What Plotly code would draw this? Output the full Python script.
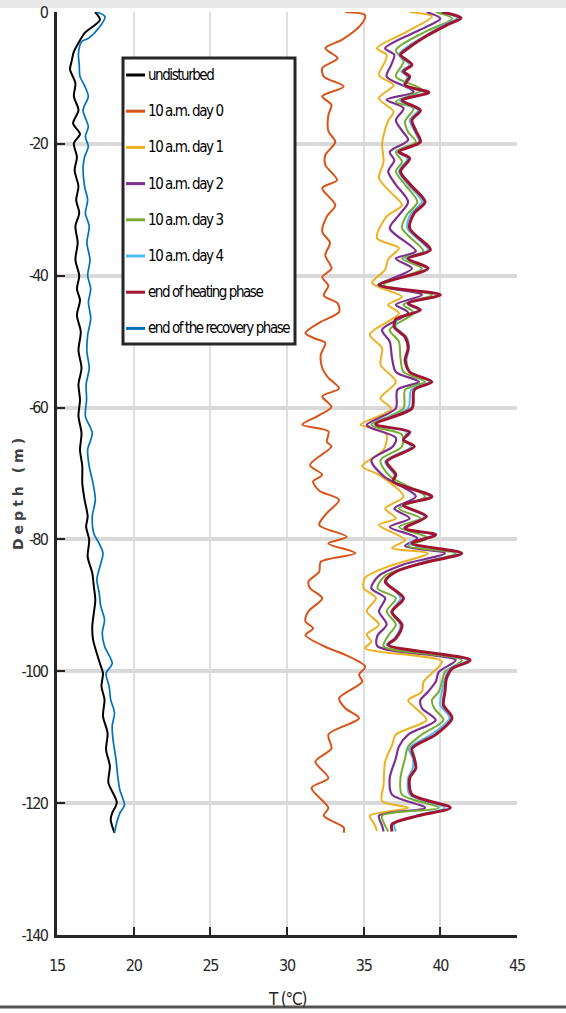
import plotly.graph_objects as go

# ---- temperature profiles: depth below surface (m) and temperature (degC) ----
undisturbed_depth = [0, 1.2, 3.2, 4.7, 6.0, 7.5, 8.7, 10.8, 12.8, 14.9, 16.9, 18.5, 19.9, 22.0, 24.0, 26.5, 28.5, 30.5, 32.5, 35.0,
                     37.6, 40.0, 42.0, 43.7, 46.0, 48.5, 51.3, 54.0, 56.5, 58.8, 61.3, 63.9, 66.4, 68.9, 71.5, 74.0, 76.5, 78.1,
                     80.1, 82.6, 85.1, 87.1, 89.2, 91.2, 93.2, 95.2, 98.8, 100.3, 102.3, 104.3, 106.8, 109.4, 111.9, 114.4,
                     116.9, 119.9, 121.5, 122.5, 124.5]
undisturbed_temp = [17.48, 17.8, 16.8, 16.4, 16.1, 15.95, 15.85, 16.2, 16.1, 16.4, 16.05, 16.5, 16.1, 16.3, 16.15, 16.4, 16.25,
                    16.45, 16.2, 16.35, 16.2, 16.45, 16.3, 16.5, 16.3, 16.55, 16.4, 16.6, 16.4, 16.5, 16.4, 16.6, 16.5, 16.65,
                    16.65, 16.8, 17.0, 16.9, 17.1, 17.0, 17.3, 17.4, 17.5, 17.4, 17.3, 17.35, 17.8, 18.0, 17.9, 18.1, 18.0,
                    18.3, 18.2, 18.45, 18.35, 18.9, 18.6, 18.5, 18.75]

day0_depth = [0, 0.5, 2.0, 4.2, 5.5, 7.0, 8.5, 9.8, 11.3, 12.8, 14.1, 15.6, 18.1, 19.7, 21.7, 23.2, 25.5, 26.7, 29.3, 31.0,
              33.3, 35.0, 36.9, 38.9, 40.2, 41.5, 43.0, 44.2, 45.5, 47.0, 48.7, 49.5, 50.2, 52.0, 54.0, 55.5, 57.1, 58.3,
              59.9, 61.3, 62.6, 63.6, 65.2, 65.9, 68.7, 70.2, 71.2, 72.6, 74.0, 76.0, 77.8, 79.6, 80.6, 82.1, 83.4, 84.9,
              86.4, 87.4, 88.9, 90.9, 92.4, 93.5, 94.5, 96.5, 97.5, 99.3, 100.5, 101.6, 104.1, 105.6, 107.1, 109.6, 111.7,
              113.7, 116.2, 117.7, 120.7, 121.9, 123.7, 124.5]
day0_temp = [33.8, 35.1, 34.8, 33.6, 32.5, 33.3, 32.3, 32.4, 33.7, 32.3, 32.9, 32.7, 32.7, 33.15, 32.5, 32.5, 33.26, 32.3,
             33.15, 32.6, 32.3, 32.8, 32.5, 32.9, 32.3, 32.7, 32.4, 33.3, 33.4, 32.2, 31.2, 31.8, 32.5, 32.2, 32.3, 32.7,
             33.4, 32.3, 32.9, 32.0, 31.0, 32.7, 32.6, 32.9, 31.5, 32.3, 31.7, 32.1, 33.4, 32.6, 32.1, 33.9, 32.7, 34.46,
             32.2, 32.1, 31.4, 31.5, 32.3, 31.4, 31.2, 31.7, 31.2, 32.7, 33.8, 35.1, 34.7, 34.9, 33.4, 33.8, 34.7, 32.7,
             32.9, 31.85, 32.7, 31.6, 32.7, 32.4, 33.7, 33.7]

day1_depth = [0, 0.7, 3.0, 5.5, 6.5, 7.5, 9.6, 11.1, 13.1, 15.1, 16.5, 18.7, 20.2, 22.7, 25.2, 27.2, 29.3, 31.0, 34.3, 35.8,
              37.5, 39.1, 41.1, 43.2, 44.4, 45.7, 48.9, 51.0, 53.5, 56.1, 58.6, 60.2, 62.6, 63.1, 64.1, 66.4, 68.9, 70.2,
              73.5, 75.3, 76.8, 77.8, 80.1, 81.3, 82.1, 84.1, 85.8, 87.4, 88.9, 90.9, 92.9, 94.4, 95.5, 96.5, 98.5, 100.3,
              101.6, 103.1, 104.4, 105.6, 107.4, 109.6, 111.2, 113.7, 117.2, 119.7, 120.7, 121.9, 123.2, 124.2]
day1_temp = [38.0, 39.45, 37.8, 35.87, 36.5, 36.4, 36.0, 36.95, 35.98, 36.95, 36.6, 36.3, 36.2, 36.3, 36.0, 36.7, 37.5, 36.5,
             35.87, 37.3, 36.6, 36.4, 35.55, 37.5, 36.6, 37.3, 35.4, 36.2, 36.1, 37.1, 36.1, 36.8, 34.8, 35.5, 36.5, 36.3,
             34.9, 36.0, 37.6, 36.4, 37.1, 36.0, 37.7, 36.85, 39.2, 36.6, 35.1, 35.0, 35.8, 35.2, 36.0, 35.2, 35.5, 35.1,
             40.1, 39.45, 38.9, 38.8, 37.9, 38.4, 39.1, 37.1, 36.85, 36.4, 36.3, 36.2, 37.9, 35.4, 35.7, 35.87]

day2_depth = [0, 1.0, 3.0, 5.5, 6.5, 8.0, 9.8, 12.1, 13.3, 14.6, 16.4, 18.0, 19.4, 21.2, 22.5, 24.2, 26.2, 28.8, 30.8, 32.8,
              36.3, 37.4, 38.9, 41.4, 42.9, 44.4, 45.6, 48.2, 50.0, 52.5, 54.6, 56.1, 57.3, 60.1, 62.6, 63.1, 64.6, 65.9,
              68.0, 70.4, 73.5, 75.3, 76.8, 78.1, 79.8, 81.0, 82.1, 83.8, 85.5, 87.4, 88.9, 90.9, 92.9, 94.6, 96.2, 98.3,
              100.1, 101.6, 103.1, 104.4, 105.6, 107.4, 109.6, 111.4, 113.2, 116.2, 118.7, 120.7, 121.9, 123.4, 124.3]
day2_temp = [39.1, 40.0, 38.4, 36.4, 37.0, 36.8, 36.5, 38.26, 36.5, 37.6, 37.1, 37.5, 37.9, 36.7, 37.0, 36.6, 37.1, 37.9, 37.3,
             36.7, 38.4, 37.1, 38.15, 36.1, 38.8, 37.1, 37.9, 36.2, 36.7, 36.85, 37.1, 38.6, 37.2, 37.1, 35.2, 35.5, 37.1,
             36.9, 35.5, 36.3, 38.4, 37.0, 38.0, 36.7, 38.5, 37.7, 40.3, 37.6, 36.0, 35.5, 36.4, 36.0, 36.5, 35.9, 35.9,
             41.0, 39.9, 39.7, 39.2, 38.7, 38.8, 39.7, 37.9, 37.3, 37.1, 36.7, 36.85, 39.0, 36.0, 36.2, 36.3]

day3_depth = [0, 1.0, 3.0, 5.8, 7.5, 9.8, 11.8, 13.6, 14.6, 16.6, 18.2, 19.7, 21.2, 22.7, 24.2, 26.2, 28.8, 30.8, 32.8, 36.3,
              37.4, 38.9, 41.4, 42.9, 44.4, 45.6, 48.2, 50.0, 52.5, 54.6, 56.1, 57.3, 60.1, 62.6, 63.1, 64.1, 65.9, 68.0,
              70.4, 73.5, 75.3, 76.8, 78.1, 79.8, 81.0, 82.1, 83.8, 85.5, 87.4, 88.9, 90.9, 92.9, 94.6, 96.2, 98.3, 100.1,
              101.6, 103.1, 104.4, 105.6, 107.4, 109.6, 111.4, 113.2, 116.2, 118.7, 120.7, 121.9, 123.4, 124.3]
day3_temp = [39.7, 40.76, 39.0, 37.1, 37.6, 37.1, 38.8, 37.1, 38.26, 37.7, 37.9, 38.4, 37.1, 37.5, 37.1, 37.7, 38.5, 37.8,
             37.5, 38.9, 37.5, 38.8, 36.3, 39.45, 37.6, 38.26, 36.7, 37.3, 37.4, 37.6, 39.0, 37.7, 37.6, 35.5, 36.0, 37.5,
             37.5, 36.1, 36.7, 39.0, 37.3, 38.7, 37.3, 39.2, 37.9, 41.0, 38.4, 36.4, 35.9, 37.1, 36.5, 37.1, 36.6, 36.3,
             41.4, 40.3, 40.1, 39.9, 39.45, 39.6, 40.2, 38.8, 37.9, 37.7, 37.4, 37.5, 39.9, 36.2, 36.4, 36.6]

heating_depth = [0, 0.9, 2.0, 3.5, 5.5, 6.5, 8.0, 9.0, 9.8, 11.1, 12.2, 13.4, 14.9, 16.4, 18.0, 19.7, 21.2, 22.2, 24.2, 26.2,
                 28.8, 30.5, 32.8, 36.1, 37.4, 38.9, 41.4, 42.9, 44.2, 45.2, 46.6, 47.8, 49.3, 51.0, 52.8, 54.6, 56.1, 57.3,
                 60.1, 62.5, 63.7, 64.9, 65.9, 68.2, 70.2, 71.2, 73.5, 74.8, 76.5, 78.3, 79.3, 80.6, 82.1, 83.5, 84.9, 86.4,
                 88.9, 91.0, 93.0, 95.0, 96.0, 98.3, 99.6, 101.1, 103.1, 105.1, 107.1, 109.6, 111.7, 113.2, 114.7, 116.2,
                 118.7, 120.7, 121.9, 123.2, 124.3]
day4_temp = [40.0, 41.1, 40.2, 39.1, 37.7, 37.3, 38.0, 37.45, 37.85, 37.6, 39.0, 37.35, 38.55, 38.0, 38.3, 38.6, 37.2, 37.85,
             37.3, 37.9, 38.8, 38.1, 37.85, 39.2, 37.75, 39.1, 35.9, 39.85, 37.8, 38.55, 37.2, 37.1, 37.8, 37.95, 37.8, 38.0,
             39.3, 38.1, 37.9, 35.7, 37.8, 37.6, 38.1, 36.4, 37.0, 37.0, 39.3, 37.5, 38.95, 37.6, 39.55, 38.0, 41.2, 38.8,
             37.0, 36.5, 37.4, 36.8, 37.4, 37.0, 36.5, 41.75, 40.6, 40.3, 40.1, 40.0, 40.6, 39.4, 37.95, 38.2, 38.2, 37.9,
             38.0, 40.3, 38.4, 37.0, 37.1]
heating_temp = [40.1, 41.35, 40.4, 39.2, 37.9, 37.4, 38.15, 37.6, 38.0, 37.7, 39.25, 37.5, 38.7, 38.15, 38.4, 38.7, 37.3, 38.0,
                37.4, 38.05, 39.0, 38.3, 38.0, 39.35, 37.9, 39.2, 36.0, 40.0, 37.9, 38.7, 37.1, 37.0, 37.7, 37.9, 37.7, 38.0,
                39.45, 38.3, 38.15, 35.8, 38.0, 37.6, 38.3, 36.5, 37.1, 36.9, 39.45, 37.6, 39.1, 37.7, 39.7, 38.15, 41.4,
                39.0, 37.1, 36.4, 37.6, 36.85, 37.5, 37.1, 36.6, 41.95, 40.76, 40.4, 40.3, 40.2, 40.76, 39.7, 38.15, 38.3,
                38.4, 38.0, 38.15, 40.65, 38.6, 36.85, 36.85]

recovery_depth = [0, 0.7, 2.2, 4.0, 4.5, 6.3, 8.0, 9.8, 11.2, 12.8, 14.9, 17.4, 18.9, 20.4, 22.0, 23.5, 26.5, 28.5, 30.5, 32.5,
                  35.0, 37.6, 40.0, 42.0, 44.0, 46.5, 49.0, 51.5, 54.0, 56.5, 58.8, 61.3, 63.9, 66.4, 68.9, 71.5, 74.0, 76.5,
                  79.1, 80.6, 82.1, 84.1, 86.1, 88.1, 90.1, 92.2, 94.2, 96.2, 98.8, 100.3, 102.3, 104.3, 106.3, 108.3, 110.3,
                  113.4, 115.9, 118.0, 120.3, 121.5, 122.9, 124.5]
recovery_temp = [17.6, 18.13, 17.8, 17.05, 16.6, 16.4, 16.45, 16.5, 16.8, 17.04, 16.7, 17.04, 16.85, 17.04, 16.8, 16.7, 16.8,
                 17.0, 16.85, 17.1, 16.95, 17.15, 17.0, 17.2, 17.05, 17.2, 17.0, 16.95, 17.1, 16.9, 16.93, 16.85, 17.3, 17.0,
                 17.1, 17.35, 17.5, 17.3, 17.4, 17.75, 18.0, 17.8, 17.6, 17.75, 17.85, 18.1, 17.95, 18.1, 18.6, 18.2, 18.4,
                 18.5, 18.75, 18.6, 18.65, 18.85, 18.96, 19.1, 19.4, 19.1, 18.9, 18.75]

x_ticks = [15, 20, 25, 30, 35, 40, 45]
y_ticks = [0, -20, -40, -60, -80, -100, -120, -140]

series = [
    ("undisturbed", undisturbed_depth, undisturbed_temp, "#000000", 2.0),
    ("10 a.m. day 0", day0_depth, day0_temp, "#D95319", 2.0),
    ("10 a.m. day 1", day1_depth, day1_temp, "#EDB120", 2.0),
    ("10 a.m. day 2", day2_depth, day2_temp, "#7E2F8E", 2.2),
    ("10 a.m. day 3", day3_depth, day3_temp, "#77AC30", 2.0),
    ("10 a.m. day 4", heating_depth, day4_temp, "#4DBEEE", 2.0),
    ("end of heating phase", heating_depth, heating_temp, "#A2142F", 3.0),
    ("end of the recovery phase", recovery_depth, recovery_temp, "#0072BD", 1.7),
]

narrow = "DejaVu Sans Condensed, DejaVu Sans, sans-serif"


def tight(s, spacing=-1.0):
    """Condensed-looking label via negative letter spacing."""
    return f'<span style="letter-spacing:{spacing}px">{s}</span>'


fig = go.Figure()
for name, depth, temp, color, width in series:
    fig.add_trace(go.Scatter(
        x=temp, y=[-d for d in depth], mode="lines", name=name,
        line=dict(color=color, width=width, shape="spline", smoothing=0.8),
        hoverinfo="skip", showlegend=False,
    ))

axis_common = dict(
    showline=True, linecolor="#262626", linewidth=2.5, mirror=False,
    ticks="inside", ticklen=8, tickwidth=1.5, tickcolor="#262626",
    tickfont=dict(family=narrow, size=16, color="#262626"),
    zeroline=False, automargin=False,
)

fig.update_xaxes(range=[15, 45], tickvals=x_ticks, ticktext=[tight(v, -1.2) for v in x_ticks],
                 showgrid=True, gridcolor="#dedede", gridwidth=1.5, ticklabelstandoff=14, **axis_common)
fig.update_yaxes(range=[-140, 0], tickvals=y_ticks, ticktext=[tight(v, -1.8) for v in y_ticks],
                 showgrid=True, gridcolor="#d9d9d9", gridwidth=3.5, ticklabelstandoff=4, **axis_common)

# plot-area geometry in pixels, used to place the legend box in paper units
L, R, T, B = 57, 517, 12, 935


def px_x(p):
    return (p - L) / (R - L)


def px_y(p):
    return 1 - (p - T) / (B - T)


shapes = [
    dict(type="rect", xref="paper", yref="paper", x0=-0.2, x1=1.2, y0=px_y(8), y1=px_y(-10),
         fillcolor="#e8e8e8", line=dict(width=0), layer="below"),
    dict(type="line", xref="paper", yref="paper", x0=-0.2, x1=1.2, y0=px_y(1007), y1=px_y(1007),
         line=dict(color="#555555", width=3)),
    # legend frame
    dict(type="rect", xref="paper", yref="paper", x0=px_x(123), x1=px_x(295), y0=px_y(344), y1=px_y(58),
         fillcolor="white", line=dict(color="#262626", width=3), layer="above"),
]
annotations = [
    dict(text='<span style="letter-spacing:4px">Depth (m)</span>', xref="paper", yref="paper",
         x=px_x(18), y=px_y(492), xanchor="center", yanchor="middle", textangle=-90, showarrow=False,
         font=dict(family="DejaVu Sans", size=14, color="#404040", weight="bold")),
    dict(text=tight("T (°C)", -1.2), xref="paper", yref="paper", x=0.5, y=px_y(999), xanchor="center",
         yanchor="middle", showarrow=False, font=dict(family=narrow, size=17, color="#262626")),
]

# legend entries: short line sample followed by the series name
for i, (name, depth, temp, color, width) in enumerate(series):
    yc = 75 + 36.2 * i
    shapes.append(dict(type="line", xref="paper", yref="paper", x0=px_x(126), x1=px_x(145),
                       y0=px_y(yc), y1=px_y(yc), line=dict(color=color, width=3), layer="above"))
    annotations.append(dict(text=tight(name, -1.45), xref="paper", yref="paper", x=px_x(146), y=px_y(yc),
                            xanchor="left", yanchor="middle", showarrow=False,
                            font=dict(family=narrow, size=15, color="#000000")))

fig.update_layout(
    width=566, height=1013,
    margin=dict(l=L, r=566 - R, t=T, b=1013 - B, pad=0),
    paper_bgcolor="white", plot_bgcolor="white",
    showlegend=False,
    shapes=shapes,
    annotations=annotations,
)

fig.write_html("out.html")
